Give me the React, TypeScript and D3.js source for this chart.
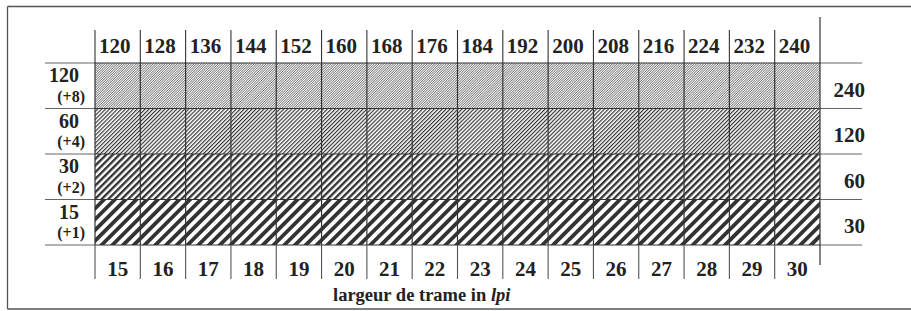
import React from 'react'
import * as d3 from 'd3'

// screen frequencies (lpi)
const topLpi = [120, 128, 136, 144, 152, 160, 168, 176, 184, 192, 200, 208, 216, 224, 232, 240]
const bottomLpi = [15, 16, 17, 18, 19, 20, 21, 22, 23, 24, 25, 26, 27, 28, 29, 30]
const rowLpi = ['120', '60', '30', '15']
const rowFactor = ['(+8)', '(+4)', '(+2)', '(+1)']
const rightLpi = ['240', '120', '60', '30']

// hatch spacing per row, in px (finest on top), and share of ink
const hatchPeriod = [1.7, 2.8, 4.7, 7.6]
const hatchInk = [0.32, 0.42, 0.5, 0.5]

const W = 911,
  H = 311
const font = '"Liberation Serif", "Times New Roman", serif'
const ink = '#333'
const rule = '#555'

export default function App() {
  const x = d3.scaleBand<number>().domain(d3.range(bottomLpi.length)).range([95, 820])
  const y = d3.scaleBand<string>().domain(rowLpi).range([63, 245])
  const edges = d3.range(bottomLpi.length + 1).map(i => 95 + i * x.step())
  const rowEdges = d3.range(rowLpi.length + 1).map(i => 63 + i * y.step())

  return (
    <div style={{ position: 'fixed', left: 0, top: 0 }}>
      <svg width={W} height={H} style={{ display: 'block', background: '#fff' }} fontFamily={font}>
        <defs>
          {hatchPeriod.map((p, i) => (
            <pattern
              key={i}
              id={`hatch${i}`}
              patternUnits='userSpaceOnUse'
              width={p}
              height={p}
              patternTransform='rotate(45)'>
              <rect width={p} height={p} fill='#fff' />
              <rect width={p * hatchInk[i]} height={p} fill={ink} />
            </pattern>
          ))}
        </defs>

        {/* frame */}
        <line x1={7.5} x2={W} y1={6.5} y2={6.5} stroke={rule} strokeWidth={1.3} />
        <line x1={7.5} x2={W} y1={309} y2={309} stroke={rule} strokeWidth={1.3} />
        <line x1={7.5} x2={7.5} y1={6.5} y2={309} stroke={rule} strokeWidth={1.3} />

        {/* hatched cells */}
        {rowLpi.map((r, ri) =>
          bottomLpi.map((b, ci) => (
            <rect
              key={`${ri}-${ci}`}
              x={x(ci)}
              y={y(r)}
              width={x.step()}
              height={y.step()}
              fill={`url(#hatch${ri})`}
            />
          ))
        )}

        {/* horizontal rules */}
        {rowEdges.map((yy, i) => (
          <g key={i}>
            <line x1={45} x2={95} y1={yy} y2={yy} stroke='#666' strokeWidth={1} />
            <line x1={95} x2={820} y1={yy} y2={yy} stroke={ink} strokeWidth={1.2} />
            <line x1={820} x2={862} y1={yy} y2={yy} stroke='#666' strokeWidth={1} />
          </g>
        ))}

        {/* vertical rules */}
        {edges.map((xx, i) =>
          i === edges.length - 1 ? (
            <line key={i} x1={xx} x2={xx} y1={17} y2={265} stroke={ink} strokeWidth={1.2} />
          ) : (
            <g key={i}>
              <line x1={xx} x2={xx} y1={30} y2={63} stroke={ink} strokeWidth={1.1} />
              <line x1={xx} x2={xx} y1={63} y2={245} stroke={ink} strokeWidth={1.2} />
              <line x1={xx} x2={xx} y1={245} y2={279} stroke='#555' strokeWidth={1.1} />
            </g>
          )
        )}

        {/* top labels */}
        {topLpi.map((t, i) => (
          <text key={i} x={x(i)! + 4} y={53} fontSize={21} fontWeight='bold' fill='#222'>
            {t}
          </text>
        ))}

        {/* bottom labels */}
        {bottomLpi.map((b, i) => (
          <text
            key={i}
            x={x(i)! + x.bandwidth() / 2}
            y={276}
            fontSize={21}
            fontWeight='bold'
            fill='#222'
            textAnchor='middle'>
            {b}
          </text>
        ))}

        {/* left labels */}
        {rowLpi.map((r, i) => (
          <g key={r}>
            <text x={79} y={y(r)! + 19} fontSize={20} fontWeight='bold' fill='#222' textAnchor='end'>
              {r}
            </text>
            <text x={85} y={y(r)! + 38.5} fontSize={16} fontWeight='bold' fill='#222' textAnchor='end'>
              {rowFactor[i]}
            </text>
          </g>
        ))}

        {/* right labels */}
        {rightLpi.map((r, i) => (
          <text
            key={r}
            x={865}
            y={y(rowLpi[i])! + y.bandwidth() / 2 + 11}
            fontSize={21}
            fontWeight='bold'
            fill='#222'
            textAnchor='end'>
            {r}
          </text>
        ))}

        {/* axis title */}
        <text x={333} y={301} fontSize={18.5} fontWeight='bold' fill='#222'>
          largeur de trame in <tspan fontStyle='italic'>lpi</tspan>
        </text>
      </svg>
    </div>
  )
}
